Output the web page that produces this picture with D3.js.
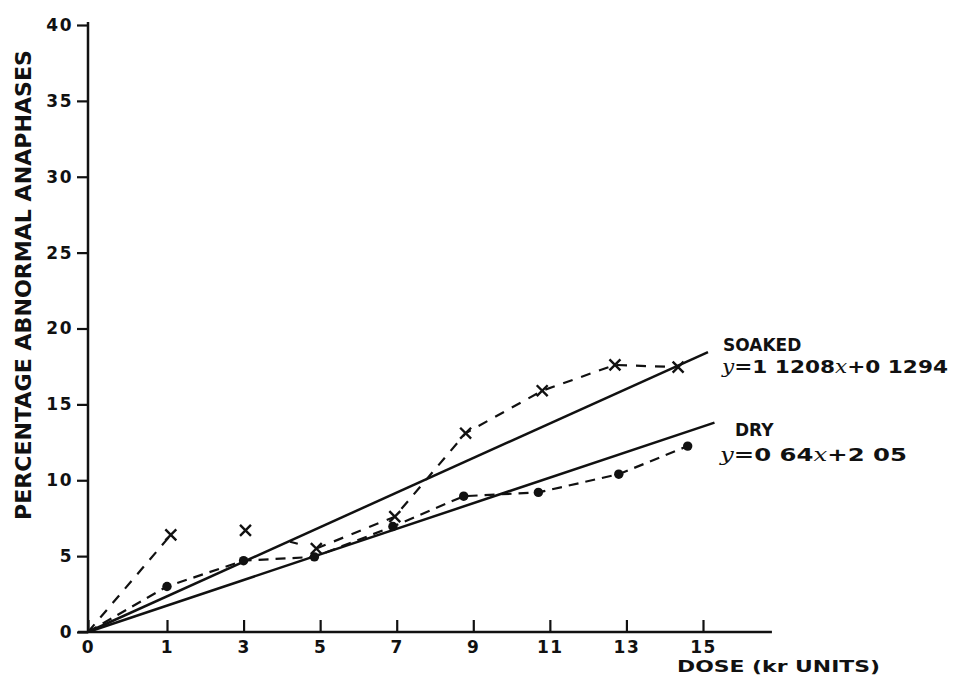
<!DOCTYPE html>
<html>
<head>
<meta charset="utf-8">
<script src="https://cdn.jsdelivr.net/npm/d3@7"></script>
<style>
    body { margin: 0; background: #fff; }
    text { font-family: "DejaVu Sans", sans-serif; font-weight: bold; fill: #111; }
</style>
</head>
<body>
<div id="chart"></div>
<script>
// tick labels as they are written on the old plot
var doseTicks = [0, 1, 3, 5, 7, 9, 11, 13, 15]
var pctTicks = [0, 5, 10, 15, 20, 25, 30, 35, 40]
var doseAxisEnd = 16.8

// dry seeds, dots (first point is the origin, no marker)
var dryDose = [0, 1, 3, 4.85, 6.9, 8.75, 10.7, 12.8, 14.6]
var dryPct = [0, 3.0, 4.7, 4.95, 6.95, 8.95, 9.2, 10.4, 12.25]

// soaked seeds, crosses
var soakedDose = [0, 1.1, 3.05, 4.9, 6.95, 8.8, 10.8, 12.7, 14.35]
var soakedPct = [0, 6.4, 6.7, 5.5, 7.6, 13.1, 15.9, 17.6, 17.45]
// dashed line is broken between 1 and 3, and only one dash between 3 and 5
var soakedRuns = [[0, 1], [2, 3], [3, 8]]
var soakedDashes = ["10,9", "0,46,8,200", "10,9"]

// fitted straight lines, start and end
var soakedFitDose = [0, 15.13]
var soakedFitPct = [0, 18.45]
var dryFitDose = [0, 15.3]
var dryFitPct = [0, 13.8]

var soakedLabel = ["SOAKED", "y", "=1 1208", "x", "+0 1294"]
var dryLabel = ["DRY", "y", "=0 64", "x", "+2 05"]

function zip(a, b) {
    var out = []
    for (var i = 0; i < a.length; i++) out.push([a[i], b[i]])
    return out
}

var width = 957, height = 682

var svg = d3.select("#chart").append("svg")
    .attr("width", width)
    .attr("height", height)

// the hand drawn axis has a wide first step (0 -> 1)
var x = d3.scaleLinear().domain([0, 1, 15]).range([88, 167, 703])
var y = d3.scaleLinear().domain([0, 40]).range([632, 25])

// y axis, ticks out to the left
var yAxis = svg.append("g")
    .attr("transform", "translate(" + x(0) + ",0)")
    .call(d3.axisLeft(y).tickValues(pctTicks).tickSize(11).tickPadding(4).tickSizeOuter(0))
yAxis.select(".domain").remove()
yAxis.selectAll("line").attr("stroke", "#111").attr("stroke-width", 2.2)
yAxis.selectAll("text")
    .style("font-size", "17px")
    .style("letter-spacing", "1.5px")
    .attr("fill", "#111")

svg.append("line")
    .attr("x1", x(0)).attr("x2", x(0))
    .attr("y1", y(0) + 1).attr("y2", y(40) - 3)
    .attr("stroke", "#111").attr("stroke-width", 2.5)

// x axis, ticks point up into the plot
var xAxis = svg.append("g")
    .attr("transform", "translate(0," + y(0) + ")")
    .call(d3.axisBottom(x).tickValues(doseTicks).tickSize(-12).tickPadding(9).tickSizeOuter(0))
xAxis.select(".domain").remove()
xAxis.selectAll("line").attr("stroke", "#111").attr("stroke-width", 2.2)
xAxis.selectAll("text")
    .style("font-size", "17px")
    .style("letter-spacing", "1.5px")
    .attr("fill", "#111")

svg.append("line")
    .attr("x1", x(0) - 10).attr("x2", x(doseAxisEnd))
    .attr("y1", y(0)).attr("y2", y(0))
    .attr("stroke", "#111").attr("stroke-width", 2.5)

// axis titles
svg.append("text")
    .attr("transform", "translate(31,285) rotate(-90)")
    .attr("text-anchor", "middle")
    .attr("textLength", 470)
    .attr("lengthAdjust", "spacingAndGlyphs")
    .style("font-size", "21px")
    .text("PERCENTAGE ABNORMAL ANAPHASES")

svg.append("text")
    .attr("x", 677).attr("y", 672)
    .attr("textLength", 203)
    .attr("lengthAdjust", "spacingAndGlyphs")
    .style("font-size", "16px")
    .text("DOSE (kr UNITS)")

var line = d3.line()
    .x(function (d) { return x(d[0]) })
    .y(function (d) { return y(d[1]) })

// fitted lines
svg.append("path")
    .datum(zip(soakedFitDose, soakedFitPct))
    .attr("d", line)
    .attr("fill", "none").attr("stroke", "#111").attr("stroke-width", 2.5)
svg.append("path")
    .datum(zip(dryFitDose, dryFitPct))
    .attr("d", line)
    .attr("fill", "none").attr("stroke", "#111").attr("stroke-width", 2.5)

// dashed observed lines
var dry = zip(dryDose, dryPct)
var soaked = zip(soakedDose, soakedPct)

svg.append("path")
    .datum(dry)
    .attr("d", line)
    .attr("fill", "none").attr("stroke", "#111").attr("stroke-width", 2.2)
    .attr("stroke-dasharray", "10,7")

soakedRuns.forEach(function (r, i) {
    svg.append("path")
        .datum(soaked.slice(r[0], r[1] + 1))
        .attr("d", line)
        .attr("fill", "none").attr("stroke", "#111").attr("stroke-width", 2.2)
        .attr("stroke-dasharray", soakedDashes[i])
})

// markers (skip origin)
svg.selectAll(".dot")
    .data(dry.slice(1))
    .enter().append("circle")
    .attr("class", "dot")
    .attr("cx", function (d) { return x(d[0]) })
    .attr("cy", function (d) { return y(d[1]) })
    .attr("r", 4.7)
    .attr("fill", "#111")

svg.selectAll(".cross")
    .data(soaked.slice(1))
    .enter().append("path")
    .attr("class", "cross")
    .attr("transform", function (d) { return "translate(" + x(d[0]) + "," + y(d[1]) + ")" })
    .attr("d", d3.symbol().type(d3.symbolX).size(80))
    .attr("fill", "none").attr("stroke", "#111").attr("stroke-width", 2.4)

// labels at the ends of the fitted lines
function label(parts, x0, y0, x1, y1, eqLen) {
    svg.append("text")
        .attr("x", x0).attr("y", y0)
        .style("font-size", "17px")
        .text(parts[0])
    var t = svg.append("text")
        .attr("x", x1).attr("y", y1)
        .attr("textLength", eqLen)
        .attr("lengthAdjust", "spacingAndGlyphs")
        .style("font-size", "18px")
    for (var i = 1; i < parts.length; i++) {
        var s = t.append("tspan").text(parts[i])
        if (parts[i] == "y" || parts[i] == "x") {
            s.style("font-family", "DejaVu Serif").style("font-style", "italic").style("font-weight", "normal")
        }
    }
}

label(soakedLabel, 723, 351, 722, 373, 226)
label(dryLabel, 735, 436, 720, 461, 187)

</script>
</body>
</html>
